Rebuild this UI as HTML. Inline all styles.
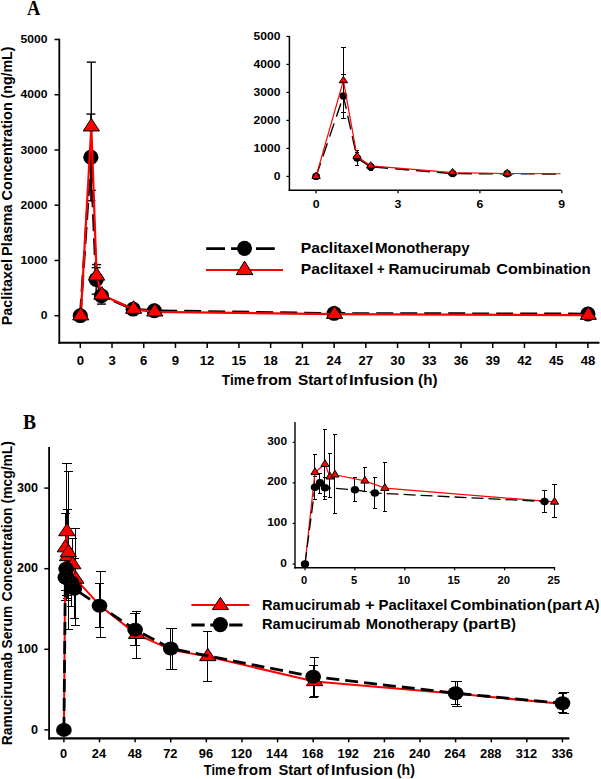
<!DOCTYPE html><html><head><meta charset="utf-8"><style>html,body{margin:0;padding:0;background:#fff;overflow:hidden}svg{display:block}</style></head><body>
<svg width="601" height="779" viewBox="0 0 601 779" font-family='"Liberation Sans", sans-serif' font-weight="bold">
<rect width="601" height="779" fill="#fff"/>
<text x="27.02" y="14.7" font-size="20" font-family='"Liberation Serif", serif' textLength="13.32" lengthAdjust="spacingAndGlyphs">A</text>
<text x="23.11" y="429.0" font-size="20" font-family='"Liberation Serif", serif' textLength="13.02" lengthAdjust="spacingAndGlyphs">B</text>
<line x1="59.30" y1="38.80" x2="59.30" y2="343.80" stroke="#000" stroke-width="1.8"/>
<line x1="58.40" y1="342.80" x2="599.50" y2="342.80" stroke="#000" stroke-width="2"/>
<line x1="54.50" y1="315.70" x2="59.30" y2="315.70" stroke="#000" stroke-width="1.5"/>
<text x="40.78" y="319.40" font-size="11.4" textLength="6.72" lengthAdjust="spacingAndGlyphs">0</text>
<line x1="54.50" y1="260.46" x2="59.30" y2="260.46" stroke="#000" stroke-width="1.5"/>
<text x="20.60" y="264.16" font-size="11.4" textLength="26.88" lengthAdjust="spacingAndGlyphs">1000</text>
<line x1="54.50" y1="205.22" x2="59.30" y2="205.22" stroke="#000" stroke-width="1.5"/>
<text x="20.60" y="208.92" font-size="11.4" textLength="26.88" lengthAdjust="spacingAndGlyphs">2000</text>
<line x1="54.50" y1="149.98" x2="59.30" y2="149.98" stroke="#000" stroke-width="1.5"/>
<text x="20.60" y="153.68" font-size="11.4" textLength="26.88" lengthAdjust="spacingAndGlyphs">3000</text>
<line x1="54.50" y1="94.74" x2="59.30" y2="94.74" stroke="#000" stroke-width="1.5"/>
<text x="20.60" y="98.44" font-size="11.4" textLength="26.88" lengthAdjust="spacingAndGlyphs">4000</text>
<line x1="54.50" y1="39.50" x2="59.30" y2="39.50" stroke="#000" stroke-width="1.5"/>
<text x="20.60" y="43.20" font-size="11.4" textLength="26.88" lengthAdjust="spacingAndGlyphs">5000</text>
<line x1="80.30" y1="343.00" x2="80.30" y2="348.00" stroke="#000" stroke-width="1.5"/>
<text x="76.65" y="365.20" font-size="12.4" textLength="7.31" lengthAdjust="spacingAndGlyphs">0</text>
<line x1="112.02" y1="343.00" x2="112.02" y2="348.00" stroke="#000" stroke-width="1.5"/>
<text x="108.44" y="365.20" font-size="12.4" textLength="7.31" lengthAdjust="spacingAndGlyphs">3</text>
<line x1="143.75" y1="343.00" x2="143.75" y2="348.00" stroke="#000" stroke-width="1.5"/>
<text x="140.10" y="365.20" font-size="12.4" textLength="7.31" lengthAdjust="spacingAndGlyphs">6</text>
<line x1="175.47" y1="343.00" x2="175.47" y2="348.00" stroke="#000" stroke-width="1.5"/>
<text x="171.83" y="365.20" font-size="12.4" textLength="7.31" lengthAdjust="spacingAndGlyphs">9</text>
<line x1="207.20" y1="343.00" x2="207.20" y2="348.00" stroke="#000" stroke-width="1.5"/>
<text x="199.77" y="365.20" font-size="12.4" textLength="14.62" lengthAdjust="spacingAndGlyphs">12</text>
<line x1="238.93" y1="343.00" x2="238.93" y2="348.00" stroke="#000" stroke-width="1.5"/>
<text x="231.40" y="365.20" font-size="12.4" textLength="14.62" lengthAdjust="spacingAndGlyphs">15</text>
<line x1="270.65" y1="343.00" x2="270.65" y2="348.00" stroke="#000" stroke-width="1.5"/>
<text x="263.16" y="365.20" font-size="12.4" textLength="14.62" lengthAdjust="spacingAndGlyphs">18</text>
<line x1="302.38" y1="343.00" x2="302.38" y2="348.00" stroke="#000" stroke-width="1.5"/>
<text x="295.01" y="365.20" font-size="12.4" textLength="14.62" lengthAdjust="spacingAndGlyphs">21</text>
<line x1="334.10" y1="343.00" x2="334.10" y2="348.00" stroke="#000" stroke-width="1.5"/>
<text x="326.61" y="365.20" font-size="12.4" textLength="14.62" lengthAdjust="spacingAndGlyphs">24</text>
<line x1="365.82" y1="343.00" x2="365.82" y2="348.00" stroke="#000" stroke-width="1.5"/>
<text x="358.56" y="365.20" font-size="12.4" textLength="14.62" lengthAdjust="spacingAndGlyphs">27</text>
<line x1="397.55" y1="343.00" x2="397.55" y2="348.00" stroke="#000" stroke-width="1.5"/>
<text x="390.35" y="365.20" font-size="12.4" textLength="14.62" lengthAdjust="spacingAndGlyphs">30</text>
<line x1="429.27" y1="343.00" x2="429.27" y2="348.00" stroke="#000" stroke-width="1.5"/>
<text x="422.05" y="365.20" font-size="12.4" textLength="14.62" lengthAdjust="spacingAndGlyphs">33</text>
<line x1="461.00" y1="343.00" x2="461.00" y2="348.00" stroke="#000" stroke-width="1.5"/>
<text x="453.77" y="365.20" font-size="12.4" textLength="14.62" lengthAdjust="spacingAndGlyphs">36</text>
<line x1="492.72" y1="343.00" x2="492.72" y2="348.00" stroke="#000" stroke-width="1.5"/>
<text x="485.50" y="365.20" font-size="12.4" textLength="14.62" lengthAdjust="spacingAndGlyphs">39</text>
<line x1="524.45" y1="343.00" x2="524.45" y2="348.00" stroke="#000" stroke-width="1.5"/>
<text x="517.32" y="365.20" font-size="12.4" textLength="14.62" lengthAdjust="spacingAndGlyphs">42</text>
<line x1="556.17" y1="343.00" x2="556.17" y2="348.00" stroke="#000" stroke-width="1.5"/>
<text x="548.95" y="365.20" font-size="12.4" textLength="14.62" lengthAdjust="spacingAndGlyphs">45</text>
<line x1="587.90" y1="343.00" x2="587.90" y2="348.00" stroke="#000" stroke-width="1.5"/>
<text x="580.70" y="365.20" font-size="12.4" textLength="14.62" lengthAdjust="spacingAndGlyphs">48</text>
<text x="221.86" y="384.90" font-size="15" textLength="23.95" lengthAdjust="spacingAndGlyphs">Tim</text>
<text x="246.39" y="384.90" font-size="15" textLength="8.46" lengthAdjust="spacingAndGlyphs">e</text>
<text x="256.76" y="384.90" font-size="15" textLength="35.04" lengthAdjust="spacingAndGlyphs">from</text>
<text x="298.04" y="384.90" font-size="15" textLength="34.97" lengthAdjust="spacingAndGlyphs">Start</text>
<text x="335.51" y="384.90" font-size="15" textLength="11.47" lengthAdjust="spacingAndGlyphs">of</text>
<text x="348.91" y="384.90" font-size="15" textLength="65.05" lengthAdjust="spacingAndGlyphs">Infusion</text>
<text x="418.14" y="384.90" font-size="15" textLength="19.37" lengthAdjust="spacingAndGlyphs">(h)</text>
<text transform="translate(11.80,325.23) rotate(-90)" font-size="14.3" textLength="66.23" lengthAdjust="spacingAndGlyphs">Paclitaxel</text>
<text transform="translate(11.80,255.95) rotate(-90)" font-size="14.3" textLength="51.34" lengthAdjust="spacingAndGlyphs">Plasma</text>
<text transform="translate(11.80,200.38) rotate(-90)" font-size="14.3" textLength="98.19" lengthAdjust="spacingAndGlyphs">Concentration</text>
<text transform="translate(11.80,98.41) rotate(-90)" font-size="14.3" textLength="51.85" lengthAdjust="spacingAndGlyphs">(ng/mL)</text>
<line x1="90.88" y1="114.07" x2="90.88" y2="157.16" stroke="#000" stroke-width="1.4"/>
<line x1="86.38" y1="114.07" x2="95.38" y2="114.07" stroke="#000" stroke-width="1.4"/>
<line x1="90.88" y1="157.16" x2="90.88" y2="200.80" stroke="#000" stroke-width="1.4"/>
<line x1="86.38" y1="200.80" x2="95.38" y2="200.80" stroke="#000" stroke-width="1.4"/>
<line x1="96.16" y1="267.64" x2="96.16" y2="279.52" stroke="#000" stroke-width="1.4"/>
<line x1="91.66" y1="267.64" x2="100.66" y2="267.64" stroke="#000" stroke-width="1.4"/>
<line x1="96.16" y1="279.52" x2="96.16" y2="294.16" stroke="#000" stroke-width="1.4"/>
<line x1="91.66" y1="294.16" x2="100.66" y2="294.16" stroke="#000" stroke-width="1.4"/>
<line x1="101.45" y1="295.81" x2="101.45" y2="304.10" stroke="#000" stroke-width="1.4"/>
<line x1="96.95" y1="304.10" x2="105.95" y2="304.10" stroke="#000" stroke-width="1.4"/>
<line x1="91.33" y1="62.15" x2="91.33" y2="126.78" stroke="#000" stroke-width="1.4"/>
<line x1="86.83" y1="62.15" x2="95.83" y2="62.15" stroke="#000" stroke-width="1.4"/>
<line x1="91.33" y1="126.78" x2="91.33" y2="190.31" stroke="#000" stroke-width="1.4"/>
<line x1="86.83" y1="190.31" x2="95.83" y2="190.31" stroke="#000" stroke-width="1.4"/>
<line x1="96.61" y1="264.60" x2="96.61" y2="275.93" stroke="#000" stroke-width="1.4"/>
<line x1="92.11" y1="264.60" x2="101.11" y2="264.60" stroke="#000" stroke-width="1.4"/>
<polyline points="80.30,315.70 90.88,157.16 96.16,279.52 101.45,295.81 133.18,309.18 154.32,310.73 334.10,313.44 587.90,313.99" fill="none" stroke="#000" stroke-width="2.7" stroke-dasharray="17 7" stroke-linejoin="round"/>
<ellipse cx="80.30" cy="315.70" rx="7.6" ry="7.4" fill="#000"/>
<ellipse cx="90.88" cy="157.16" rx="7.6" ry="7.4" fill="#000"/>
<ellipse cx="96.16" cy="279.52" rx="7.6" ry="7.4" fill="#000"/>
<ellipse cx="101.45" cy="295.81" rx="7.6" ry="7.4" fill="#000"/>
<ellipse cx="133.18" cy="309.18" rx="7.6" ry="7.4" fill="#000"/>
<ellipse cx="154.32" cy="310.73" rx="7.6" ry="7.4" fill="#000"/>
<ellipse cx="334.10" cy="313.44" rx="7.6" ry="7.4" fill="#000"/>
<ellipse cx="587.90" cy="313.99" rx="7.6" ry="7.4" fill="#000"/>
<polyline points="80.75,315.70 91.33,126.78 96.61,275.93 101.90,294.99 133.62,309.13 154.77,311.83 334.55,314.21 588.35,315.15" fill="none" stroke="#f00" stroke-width="2.2" stroke-linejoin="round"/>
<polygon points="80.75,307.30 88.85,319.90 72.65,319.90" fill="#f00" stroke="#000" stroke-width="1"/>
<polygon points="91.33,118.38 99.42,130.98 83.23,130.98" fill="#f00" stroke="#000" stroke-width="1"/>
<polygon points="96.61,267.53 104.71,280.13 88.51,280.13" fill="#f00" stroke="#000" stroke-width="1"/>
<polygon points="101.90,286.59 110.00,299.19 93.80,299.19" fill="#f00" stroke="#000" stroke-width="1"/>
<polygon points="133.62,300.73 141.72,313.33 125.53,313.33" fill="#f00" stroke="#000" stroke-width="1"/>
<polygon points="154.77,303.43 162.87,316.03 146.67,316.03" fill="#f00" stroke="#000" stroke-width="1"/>
<polygon points="334.55,305.81 342.65,318.41 326.45,318.41" fill="#f00" stroke="#000" stroke-width="1"/>
<polygon points="588.35,306.75 596.45,319.35 580.25,319.35" fill="#f00" stroke="#000" stroke-width="1"/>
<polyline points="206.20,248.60 275.00,248.60" fill="none" stroke="#000" stroke-width="2.8" stroke-dasharray="18.8 6.1" stroke-linejoin="round"/>
<ellipse cx="244.50" cy="248.35" rx="7.5" ry="7.6" fill="#000"/>
<line x1="206.00" y1="269.90" x2="283.00" y2="269.90" stroke="#f00" stroke-width="2"/>
<polygon points="244.60,261.10 252.90,274.60 236.30,274.60" fill="#f00" stroke="#000" stroke-width="1"/>
<text x="300.78" y="252.90" font-size="14.3" textLength="72.61" lengthAdjust="spacingAndGlyphs">Paclitaxel</text>
<text x="374.92" y="252.90" font-size="14.3" textLength="94.80" lengthAdjust="spacingAndGlyphs">Monotherapy</text>
<text x="300.78" y="273.90" font-size="14.3" textLength="72.61" lengthAdjust="spacingAndGlyphs">Paclitaxel</text>
<text x="376.88" y="273.90" font-size="14.3" textLength="7.63" lengthAdjust="spacingAndGlyphs">+</text>
<text x="388.41" y="273.90" font-size="14.3" textLength="32.96" lengthAdjust="spacingAndGlyphs">Ram</text>
<text x="421.99" y="273.90" font-size="14.3" textLength="68.44" lengthAdjust="spacingAndGlyphs">ucirumab</text>
<text x="496.36" y="273.90" font-size="14.3" textLength="35.76" lengthAdjust="spacingAndGlyphs">Com</text>
<text x="532.43" y="273.90" font-size="14.3" textLength="58.22" lengthAdjust="spacingAndGlyphs">bination</text>
<line x1="289.40" y1="36.00" x2="289.40" y2="191.00" stroke="#000" stroke-width="1.5"/>
<line x1="288.70" y1="190.30" x2="561.50" y2="190.30" stroke="#000" stroke-width="1.5"/>
<line x1="286.40" y1="176.40" x2="289.40" y2="176.40" stroke="#000" stroke-width="1.2"/>
<text x="273.67" y="180.20" font-size="11" textLength="6.73" lengthAdjust="spacingAndGlyphs">0</text>
<line x1="286.40" y1="148.40" x2="289.40" y2="148.40" stroke="#000" stroke-width="1.2"/>
<text x="253.46" y="152.20" font-size="11" textLength="26.92" lengthAdjust="spacingAndGlyphs">1000</text>
<line x1="286.40" y1="120.40" x2="289.40" y2="120.40" stroke="#000" stroke-width="1.2"/>
<text x="253.46" y="124.20" font-size="11" textLength="26.92" lengthAdjust="spacingAndGlyphs">2000</text>
<line x1="286.40" y1="92.40" x2="289.40" y2="92.40" stroke="#000" stroke-width="1.2"/>
<text x="253.46" y="96.20" font-size="11" textLength="26.92" lengthAdjust="spacingAndGlyphs">3000</text>
<line x1="286.40" y1="64.40" x2="289.40" y2="64.40" stroke="#000" stroke-width="1.2"/>
<text x="253.46" y="68.20" font-size="11" textLength="26.92" lengthAdjust="spacingAndGlyphs">4000</text>
<line x1="286.40" y1="36.40" x2="289.40" y2="36.40" stroke="#000" stroke-width="1.2"/>
<text x="253.46" y="40.20" font-size="11" textLength="26.92" lengthAdjust="spacingAndGlyphs">5000</text>
<line x1="316.10" y1="190.30" x2="316.10" y2="193.20" stroke="#000" stroke-width="1.3"/>
<text x="312.68" y="208.10" font-size="11.2" textLength="6.85" lengthAdjust="spacingAndGlyphs">0</text>
<line x1="398.00" y1="190.30" x2="398.00" y2="193.20" stroke="#000" stroke-width="1.3"/>
<text x="394.64" y="208.10" font-size="11.2" textLength="6.85" lengthAdjust="spacingAndGlyphs">3</text>
<line x1="479.90" y1="190.30" x2="479.90" y2="193.20" stroke="#000" stroke-width="1.3"/>
<text x="476.48" y="208.10" font-size="11.2" textLength="6.85" lengthAdjust="spacingAndGlyphs">6</text>
<line x1="561.80" y1="190.30" x2="561.80" y2="193.20" stroke="#000" stroke-width="1.3"/>
<text x="558.38" y="208.10" font-size="11.2" textLength="6.85" lengthAdjust="spacingAndGlyphs">9</text>
<line x1="343.40" y1="74.20" x2="343.40" y2="96.04" stroke="#000" stroke-width="1" shape-rendering="crispEdges"/>
<line x1="341.20" y1="74.20" x2="345.60" y2="74.20" stroke="#000" stroke-width="1" shape-rendering="crispEdges"/>
<line x1="343.40" y1="96.04" x2="343.40" y2="118.16" stroke="#000" stroke-width="1" shape-rendering="crispEdges"/>
<line x1="341.20" y1="118.16" x2="345.60" y2="118.16" stroke="#000" stroke-width="1" shape-rendering="crispEdges"/>
<line x1="357.05" y1="152.04" x2="357.05" y2="158.06" stroke="#000" stroke-width="1" shape-rendering="crispEdges"/>
<line x1="354.85" y1="152.04" x2="359.25" y2="152.04" stroke="#000" stroke-width="1" shape-rendering="crispEdges"/>
<line x1="357.05" y1="158.06" x2="357.05" y2="165.48" stroke="#000" stroke-width="1" shape-rendering="crispEdges"/>
<line x1="354.85" y1="165.48" x2="359.25" y2="165.48" stroke="#000" stroke-width="1" shape-rendering="crispEdges"/>
<line x1="370.70" y1="166.32" x2="370.70" y2="170.52" stroke="#000" stroke-width="1" shape-rendering="crispEdges"/>
<line x1="368.50" y1="170.52" x2="372.90" y2="170.52" stroke="#000" stroke-width="1" shape-rendering="crispEdges"/>
<line x1="343.40" y1="47.88" x2="343.40" y2="80.64" stroke="#000" stroke-width="1" shape-rendering="crispEdges"/>
<line x1="341.20" y1="47.88" x2="345.60" y2="47.88" stroke="#000" stroke-width="1" shape-rendering="crispEdges"/>
<line x1="343.40" y1="80.64" x2="343.40" y2="112.84" stroke="#000" stroke-width="1" shape-rendering="crispEdges"/>
<line x1="341.20" y1="112.84" x2="345.60" y2="112.84" stroke="#000" stroke-width="1" shape-rendering="crispEdges"/>
<line x1="357.05" y1="150.50" x2="357.05" y2="156.24" stroke="#000" stroke-width="1" shape-rendering="crispEdges"/>
<line x1="354.85" y1="150.50" x2="359.25" y2="150.50" stroke="#000" stroke-width="1" shape-rendering="crispEdges"/>
<polyline points="316.10,176.40 343.40,96.04 357.05,158.06 370.70,166.74 452.60,173.60 507.20,173.82 560.50,173.99" fill="none" stroke="#000" stroke-width="1.4" stroke-dasharray="14 7" stroke-linejoin="round"/>
<ellipse cx="316.10" cy="176.40" rx="3.9" ry="3.7" fill="#000"/>
<ellipse cx="343.40" cy="96.04" rx="3.9" ry="3.7" fill="#000"/>
<ellipse cx="357.05" cy="158.06" rx="3.9" ry="3.7" fill="#000"/>
<ellipse cx="370.70" cy="166.74" rx="3.9" ry="3.7" fill="#000"/>
<ellipse cx="452.60" cy="173.60" rx="3.9" ry="3.7" fill="#000"/>
<ellipse cx="507.20" cy="173.82" rx="3.9" ry="3.7" fill="#000"/>
<polyline points="316.10,176.40 343.40,80.64 357.05,156.24 370.70,165.90 452.60,172.65 507.20,173.49 560.50,173.74" fill="none" stroke="#f00" stroke-width="1.2" stroke-linejoin="round"/>
<polygon points="316.10,172.20 320.30,178.50 311.90,178.50" fill="#f00" stroke="#000" stroke-width="1"/>
<polygon points="343.40,76.44 347.60,82.74 339.20,82.74" fill="#f00" stroke="#000" stroke-width="1"/>
<polygon points="357.05,152.04 361.25,158.34 352.85,158.34" fill="#f00" stroke="#000" stroke-width="1"/>
<polygon points="370.70,161.70 374.90,168.00 366.50,168.00" fill="#f00" stroke="#000" stroke-width="1"/>
<polygon points="452.60,168.45 456.80,174.75 448.40,174.75" fill="#f00" stroke="#000" stroke-width="1"/>
<polygon points="507.20,169.29 511.40,175.59 503.00,175.59" fill="#f00" stroke="#000" stroke-width="1"/>
<line x1="49.10" y1="447.10" x2="49.10" y2="739.40" stroke="#000" stroke-width="1.8"/>
<line x1="48.20" y1="738.30" x2="569.40" y2="738.30" stroke="#000" stroke-width="2.2"/>
<line x1="44.30" y1="729.90" x2="49.10" y2="729.90" stroke="#000" stroke-width="1.5"/>
<text x="31.11" y="733.50" font-size="12" textLength="7.01" lengthAdjust="spacingAndGlyphs">0</text>
<line x1="44.30" y1="649.30" x2="49.10" y2="649.30" stroke="#000" stroke-width="1.5"/>
<text x="17.12" y="652.90" font-size="12" textLength="21.02" lengthAdjust="spacingAndGlyphs">100</text>
<line x1="44.30" y1="568.70" x2="49.10" y2="568.70" stroke="#000" stroke-width="1.5"/>
<text x="17.12" y="572.30" font-size="12" textLength="21.02" lengthAdjust="spacingAndGlyphs">200</text>
<line x1="44.30" y1="488.10" x2="49.10" y2="488.10" stroke="#000" stroke-width="1.5"/>
<text x="17.12" y="491.70" font-size="12" textLength="21.02" lengthAdjust="spacingAndGlyphs">300</text>
<line x1="63.90" y1="738.30" x2="63.90" y2="742.30" stroke="#000" stroke-width="1.5"/>
<text x="59.94" y="757.90" font-size="12" textLength="7.14" lengthAdjust="spacingAndGlyphs">0</text>
<line x1="99.51" y1="738.30" x2="99.51" y2="742.30" stroke="#000" stroke-width="1.5"/>
<text x="91.79" y="757.90" font-size="12" textLength="14.28" lengthAdjust="spacingAndGlyphs">24</text>
<line x1="135.12" y1="738.30" x2="135.12" y2="742.30" stroke="#000" stroke-width="1.5"/>
<text x="127.69" y="757.90" font-size="12" textLength="14.28" lengthAdjust="spacingAndGlyphs">48</text>
<line x1="170.73" y1="738.30" x2="170.73" y2="742.30" stroke="#000" stroke-width="1.5"/>
<text x="163.20" y="757.90" font-size="12" textLength="14.28" lengthAdjust="spacingAndGlyphs">72</text>
<line x1="206.34" y1="738.30" x2="206.34" y2="742.30" stroke="#000" stroke-width="1.5"/>
<text x="198.81" y="757.90" font-size="12" textLength="14.28" lengthAdjust="spacingAndGlyphs">96</text>
<line x1="241.95" y1="738.30" x2="241.95" y2="742.30" stroke="#000" stroke-width="1.5"/>
<text x="230.73" y="757.90" font-size="12" textLength="21.42" lengthAdjust="spacingAndGlyphs">120</text>
<line x1="277.56" y1="738.30" x2="277.56" y2="742.30" stroke="#000" stroke-width="1.5"/>
<text x="266.12" y="757.90" font-size="12" textLength="21.42" lengthAdjust="spacingAndGlyphs">144</text>
<line x1="313.17" y1="738.30" x2="313.17" y2="742.30" stroke="#000" stroke-width="1.5"/>
<text x="301.89" y="757.90" font-size="12" textLength="21.42" lengthAdjust="spacingAndGlyphs">168</text>
<line x1="348.78" y1="738.30" x2="348.78" y2="742.30" stroke="#000" stroke-width="1.5"/>
<text x="337.56" y="757.90" font-size="12" textLength="21.42" lengthAdjust="spacingAndGlyphs">192</text>
<line x1="384.39" y1="738.30" x2="384.39" y2="742.30" stroke="#000" stroke-width="1.5"/>
<text x="373.30" y="757.90" font-size="12" textLength="21.42" lengthAdjust="spacingAndGlyphs">216</text>
<line x1="420.00" y1="738.30" x2="420.00" y2="742.30" stroke="#000" stroke-width="1.5"/>
<text x="408.94" y="757.90" font-size="12" textLength="21.42" lengthAdjust="spacingAndGlyphs">240</text>
<line x1="455.61" y1="738.30" x2="455.61" y2="742.30" stroke="#000" stroke-width="1.5"/>
<text x="444.33" y="757.90" font-size="12" textLength="21.42" lengthAdjust="spacingAndGlyphs">264</text>
<line x1="491.22" y1="738.30" x2="491.22" y2="742.30" stroke="#000" stroke-width="1.5"/>
<text x="480.10" y="757.90" font-size="12" textLength="21.42" lengthAdjust="spacingAndGlyphs">288</text>
<line x1="526.83" y1="738.30" x2="526.83" y2="742.30" stroke="#000" stroke-width="1.5"/>
<text x="515.84" y="757.90" font-size="12" textLength="21.42" lengthAdjust="spacingAndGlyphs">312</text>
<line x1="562.44" y1="738.30" x2="562.44" y2="742.30" stroke="#000" stroke-width="1.5"/>
<text x="551.41" y="757.90" font-size="12" textLength="21.42" lengthAdjust="spacingAndGlyphs">336</text>
<text x="203.87" y="775.00" font-size="14.3" textLength="22.49" lengthAdjust="spacingAndGlyphs">Tim</text>
<text x="226.98" y="775.00" font-size="14.3" textLength="8.57" lengthAdjust="spacingAndGlyphs">e</text>
<text x="237.77" y="775.00" font-size="14.3" textLength="34.00" lengthAdjust="spacingAndGlyphs">from</text>
<text x="278.46" y="775.00" font-size="14.3" textLength="33.54" lengthAdjust="spacingAndGlyphs">Start</text>
<text x="316.47" y="775.00" font-size="14.3" textLength="12.52" lengthAdjust="spacingAndGlyphs">of</text>
<text x="330.96" y="775.00" font-size="14.3" textLength="61.94" lengthAdjust="spacingAndGlyphs">Infusion</text>
<text x="396.79" y="775.00" font-size="14.3" textLength="18.07" lengthAdjust="spacingAndGlyphs">(h)</text>
<text transform="translate(11.80,745.21) rotate(-90)" font-size="14.0" textLength="92.94" lengthAdjust="spacingAndGlyphs">Ramucirumab</text>
<text transform="translate(11.80,648.41) rotate(-90)" font-size="14.0" textLength="42.49" lengthAdjust="spacingAndGlyphs">Serum</text>
<text transform="translate(11.80,601.35) rotate(-90)" font-size="14.0" textLength="93.93" lengthAdjust="spacingAndGlyphs">Concentration</text>
<text transform="translate(11.80,503.39) rotate(-90)" font-size="14.0" textLength="62.29" lengthAdjust="spacingAndGlyphs">(mcg/mL)</text>
<line x1="65.38" y1="513.09" x2="65.38" y2="577.57" stroke="#000" stroke-width="1" shape-rendering="crispEdges"/>
<line x1="60.73" y1="513.09" x2="70.03" y2="513.09" stroke="#000" stroke-width="1" shape-rendering="crispEdges"/>
<line x1="60.73" y1="577.57" x2="70.03" y2="577.57" stroke="#000" stroke-width="1" shape-rendering="crispEdges"/>
<line x1="66.87" y1="463.11" x2="66.87" y2="595.30" stroke="#000" stroke-width="1" shape-rendering="crispEdges"/>
<line x1="62.22" y1="463.11" x2="71.52" y2="463.11" stroke="#000" stroke-width="1" shape-rendering="crispEdges"/>
<line x1="62.22" y1="595.30" x2="71.52" y2="595.30" stroke="#000" stroke-width="1" shape-rendering="crispEdges"/>
<line x1="67.61" y1="509.86" x2="67.61" y2="598.52" stroke="#000" stroke-width="1" shape-rendering="crispEdges"/>
<line x1="62.96" y1="509.86" x2="72.26" y2="509.86" stroke="#000" stroke-width="1" shape-rendering="crispEdges"/>
<line x1="62.96" y1="598.52" x2="72.26" y2="598.52" stroke="#000" stroke-width="1" shape-rendering="crispEdges"/>
<line x1="68.35" y1="471.98" x2="68.35" y2="629.15" stroke="#000" stroke-width="1" shape-rendering="crispEdges"/>
<line x1="63.70" y1="471.98" x2="73.00" y2="471.98" stroke="#000" stroke-width="1" shape-rendering="crispEdges"/>
<line x1="63.70" y1="629.15" x2="73.00" y2="629.15" stroke="#000" stroke-width="1" shape-rendering="crispEdges"/>
<line x1="72.80" y1="538.88" x2="72.80" y2="585.63" stroke="#000" stroke-width="1" shape-rendering="crispEdges"/>
<line x1="68.15" y1="538.88" x2="77.45" y2="538.88" stroke="#000" stroke-width="1" shape-rendering="crispEdges"/>
<line x1="68.15" y1="585.63" x2="77.45" y2="585.63" stroke="#000" stroke-width="1" shape-rendering="crispEdges"/>
<line x1="75.77" y1="528.40" x2="75.77" y2="625.12" stroke="#000" stroke-width="1" shape-rendering="crispEdges"/>
<line x1="71.12" y1="528.40" x2="80.42" y2="528.40" stroke="#000" stroke-width="1" shape-rendering="crispEdges"/>
<line x1="71.12" y1="625.12" x2="80.42" y2="625.12" stroke="#000" stroke-width="1" shape-rendering="crispEdges"/>
<line x1="100.99" y1="571.92" x2="100.99" y2="637.21" stroke="#000" stroke-width="1" shape-rendering="crispEdges"/>
<line x1="96.34" y1="571.92" x2="105.64" y2="571.92" stroke="#000" stroke-width="1" shape-rendering="crispEdges"/>
<line x1="96.34" y1="637.21" x2="105.64" y2="637.21" stroke="#000" stroke-width="1" shape-rendering="crispEdges"/>
<line x1="136.60" y1="611.42" x2="136.60" y2="658.17" stroke="#000" stroke-width="1" shape-rendering="crispEdges"/>
<line x1="131.95" y1="611.42" x2="141.25" y2="611.42" stroke="#000" stroke-width="1" shape-rendering="crispEdges"/>
<line x1="131.95" y1="658.17" x2="141.25" y2="658.17" stroke="#000" stroke-width="1" shape-rendering="crispEdges"/>
<line x1="172.21" y1="628.34" x2="172.21" y2="669.45" stroke="#000" stroke-width="1" shape-rendering="crispEdges"/>
<line x1="167.56" y1="628.34" x2="176.86" y2="628.34" stroke="#000" stroke-width="1" shape-rendering="crispEdges"/>
<line x1="167.56" y1="669.45" x2="176.86" y2="669.45" stroke="#000" stroke-width="1" shape-rendering="crispEdges"/>
<line x1="207.82" y1="631.89" x2="207.82" y2="681.14" stroke="#000" stroke-width="1" shape-rendering="crispEdges"/>
<line x1="203.17" y1="631.89" x2="212.47" y2="631.89" stroke="#000" stroke-width="1" shape-rendering="crispEdges"/>
<line x1="203.17" y1="681.14" x2="212.47" y2="681.14" stroke="#000" stroke-width="1" shape-rendering="crispEdges"/>
<line x1="314.65" y1="657.36" x2="314.65" y2="696.85" stroke="#000" stroke-width="1" shape-rendering="crispEdges"/>
<line x1="310.00" y1="657.36" x2="319.30" y2="657.36" stroke="#000" stroke-width="1" shape-rendering="crispEdges"/>
<line x1="310.00" y1="696.85" x2="319.30" y2="696.85" stroke="#000" stroke-width="1" shape-rendering="crispEdges"/>
<line x1="457.09" y1="681.14" x2="457.09" y2="706.53" stroke="#000" stroke-width="1" shape-rendering="crispEdges"/>
<line x1="452.44" y1="681.14" x2="461.74" y2="681.14" stroke="#000" stroke-width="1" shape-rendering="crispEdges"/>
<line x1="452.44" y1="706.53" x2="461.74" y2="706.53" stroke="#000" stroke-width="1" shape-rendering="crispEdges"/>
<line x1="563.92" y1="692.02" x2="563.92" y2="713.78" stroke="#000" stroke-width="1" shape-rendering="crispEdges"/>
<line x1="559.27" y1="692.02" x2="568.57" y2="692.02" stroke="#000" stroke-width="1" shape-rendering="crispEdges"/>
<line x1="559.27" y1="713.78" x2="568.57" y2="713.78" stroke="#000" stroke-width="1" shape-rendering="crispEdges"/>
<line x1="65.38" y1="556.61" x2="65.38" y2="600.94" stroke="#000" stroke-width="1" shape-rendering="crispEdges"/>
<line x1="60.73" y1="556.61" x2="70.03" y2="556.61" stroke="#000" stroke-width="1" shape-rendering="crispEdges"/>
<line x1="60.73" y1="600.94" x2="70.03" y2="600.94" stroke="#000" stroke-width="1" shape-rendering="crispEdges"/>
<line x1="66.13" y1="550.16" x2="66.13" y2="590.46" stroke="#000" stroke-width="1" shape-rendering="crispEdges"/>
<line x1="61.48" y1="550.16" x2="70.78" y2="550.16" stroke="#000" stroke-width="1" shape-rendering="crispEdges"/>
<line x1="61.48" y1="590.46" x2="70.78" y2="590.46" stroke="#000" stroke-width="1" shape-rendering="crispEdges"/>
<line x1="66.87" y1="558.22" x2="66.87" y2="600.94" stroke="#000" stroke-width="1" shape-rendering="crispEdges"/>
<line x1="62.22" y1="558.22" x2="71.52" y2="558.22" stroke="#000" stroke-width="1" shape-rendering="crispEdges"/>
<line x1="62.22" y1="600.94" x2="71.52" y2="600.94" stroke="#000" stroke-width="1" shape-rendering="crispEdges"/>
<line x1="71.32" y1="559.03" x2="71.32" y2="606.58" stroke="#000" stroke-width="1" shape-rendering="crispEdges"/>
<line x1="66.67" y1="559.03" x2="75.97" y2="559.03" stroke="#000" stroke-width="1" shape-rendering="crispEdges"/>
<line x1="66.67" y1="606.58" x2="75.97" y2="606.58" stroke="#000" stroke-width="1" shape-rendering="crispEdges"/>
<line x1="74.29" y1="558.22" x2="74.29" y2="618.67" stroke="#000" stroke-width="1" shape-rendering="crispEdges"/>
<line x1="69.64" y1="558.22" x2="78.94" y2="558.22" stroke="#000" stroke-width="1" shape-rendering="crispEdges"/>
<line x1="69.64" y1="618.67" x2="78.94" y2="618.67" stroke="#000" stroke-width="1" shape-rendering="crispEdges"/>
<line x1="99.51" y1="583.21" x2="99.51" y2="627.54" stroke="#000" stroke-width="1" shape-rendering="crispEdges"/>
<line x1="94.86" y1="583.21" x2="104.16" y2="583.21" stroke="#000" stroke-width="1" shape-rendering="crispEdges"/>
<line x1="94.86" y1="627.54" x2="104.16" y2="627.54" stroke="#000" stroke-width="1" shape-rendering="crispEdges"/>
<line x1="135.12" y1="613.84" x2="135.12" y2="645.27" stroke="#000" stroke-width="1" shape-rendering="crispEdges"/>
<line x1="130.47" y1="613.84" x2="139.77" y2="613.84" stroke="#000" stroke-width="1" shape-rendering="crispEdges"/>
<line x1="130.47" y1="645.27" x2="139.77" y2="645.27" stroke="#000" stroke-width="1" shape-rendering="crispEdges"/>
<line x1="170.73" y1="628.34" x2="170.73" y2="669.45" stroke="#000" stroke-width="1" shape-rendering="crispEdges"/>
<line x1="166.08" y1="628.34" x2="175.38" y2="628.34" stroke="#000" stroke-width="1" shape-rendering="crispEdges"/>
<line x1="166.08" y1="669.45" x2="175.38" y2="669.45" stroke="#000" stroke-width="1" shape-rendering="crispEdges"/>
<line x1="313.17" y1="665.02" x2="313.17" y2="697.90" stroke="#000" stroke-width="1" shape-rendering="crispEdges"/>
<line x1="308.52" y1="665.02" x2="317.82" y2="665.02" stroke="#000" stroke-width="1" shape-rendering="crispEdges"/>
<line x1="308.52" y1="697.90" x2="317.82" y2="697.90" stroke="#000" stroke-width="1" shape-rendering="crispEdges"/>
<line x1="455.61" y1="681.70" x2="455.61" y2="704.43" stroke="#000" stroke-width="1" shape-rendering="crispEdges"/>
<line x1="450.96" y1="681.70" x2="460.26" y2="681.70" stroke="#000" stroke-width="1" shape-rendering="crispEdges"/>
<line x1="450.96" y1="704.43" x2="460.26" y2="704.43" stroke="#000" stroke-width="1" shape-rendering="crispEdges"/>
<line x1="562.44" y1="693.87" x2="562.44" y2="712.17" stroke="#000" stroke-width="1" shape-rendering="crispEdges"/>
<line x1="557.79" y1="693.87" x2="567.09" y2="693.87" stroke="#000" stroke-width="1" shape-rendering="crispEdges"/>
<line x1="557.79" y1="712.17" x2="567.09" y2="712.17" stroke="#000" stroke-width="1" shape-rendering="crispEdges"/>
<polyline points="63.90,729.90 65.38,547.74 66.87,531.62 67.61,556.61 68.35,552.58 72.80,564.67 75.77,579.18 100.99,606.58 136.60,634.39 172.21,650.11 207.82,656.55 314.65,681.54 457.09,693.63 563.92,704.11" fill="none" stroke="#f00" stroke-width="2" stroke-linejoin="round"/>
<polygon points="65.38,539.54 73.58,551.84 57.18,551.84" fill="#f00" stroke="#000" stroke-width="1"/>
<polygon points="66.87,523.42 75.07,535.72 58.67,535.72" fill="#f00" stroke="#000" stroke-width="1"/>
<polygon points="67.61,548.41 75.81,560.71 59.41,560.71" fill="#f00" stroke="#000" stroke-width="1"/>
<polygon points="68.35,544.38 76.55,556.68 60.15,556.68" fill="#f00" stroke="#000" stroke-width="1"/>
<polygon points="72.80,556.47 81.00,568.77 64.60,568.77" fill="#f00" stroke="#000" stroke-width="1"/>
<polygon points="75.77,570.98 83.97,583.28 67.57,583.28" fill="#f00" stroke="#000" stroke-width="1"/>
<polygon points="136.60,626.19 144.80,638.49 128.40,638.49" fill="#f00" stroke="#000" stroke-width="1"/>
<polygon points="207.82,648.35 216.02,660.65 199.62,660.65" fill="#f00" stroke="#000" stroke-width="1"/>
<polygon points="314.65,673.34 322.85,685.64 306.45,685.64" fill="#f00" stroke="#000" stroke-width="1"/>
<polyline points="63.90,729.90 65.38,577.57 66.13,568.70 66.87,578.37 71.32,582.40 74.29,588.85 99.51,605.78 135.12,629.63 170.73,648.49 313.17,676.70 455.61,693.23 562.44,703.30" fill="none" stroke="#000" stroke-width="2.8" stroke-dasharray="13 6" stroke-linejoin="round"/>
<ellipse cx="63.90" cy="729.90" rx="7.85" ry="7.0" fill="#000"/>
<ellipse cx="65.38" cy="577.57" rx="7.85" ry="7.0" fill="#000"/>
<ellipse cx="66.13" cy="568.70" rx="7.85" ry="7.0" fill="#000"/>
<ellipse cx="66.87" cy="578.37" rx="7.85" ry="7.0" fill="#000"/>
<ellipse cx="71.32" cy="582.40" rx="7.85" ry="7.0" fill="#000"/>
<ellipse cx="74.29" cy="588.85" rx="7.85" ry="7.0" fill="#000"/>
<ellipse cx="99.51" cy="605.78" rx="7.85" ry="7.0" fill="#000"/>
<ellipse cx="135.12" cy="629.63" rx="7.85" ry="7.0" fill="#000"/>
<ellipse cx="170.73" cy="648.49" rx="7.85" ry="7.0" fill="#000"/>
<ellipse cx="313.17" cy="676.70" rx="7.85" ry="7.0" fill="#000"/>
<ellipse cx="455.61" cy="693.23" rx="7.85" ry="7.0" fill="#000"/>
<ellipse cx="562.44" cy="703.30" rx="7.85" ry="7.0" fill="#000"/>
<line x1="191.40" y1="604.90" x2="249.30" y2="604.90" stroke="#f00" stroke-width="2"/>
<polygon points="220.40,597.30 228.50,609.60 212.30,609.60" fill="#f00" stroke="#000" stroke-width="1"/>
<polyline points="191.40,625.00 242.50,625.00" fill="none" stroke="#000" stroke-width="2.8" stroke-dasharray="13.3 5.6" stroke-linejoin="round"/>
<ellipse cx="220.30" cy="624.60" rx="7.6" ry="7.6" fill="#000"/>
<text x="262.05" y="610.00" font-size="14.8" textLength="31.69" lengthAdjust="spacingAndGlyphs">Ram</text>
<text x="294.64" y="610.00" font-size="14.8" textLength="47.70" lengthAdjust="spacingAndGlyphs">ucirum</text>
<text x="343.46" y="610.00" font-size="14.8" textLength="16.95" lengthAdjust="spacingAndGlyphs">ab</text>
<text x="365.13" y="610.00" font-size="14.8" textLength="9.71" lengthAdjust="spacingAndGlyphs">+</text>
<text x="378.53" y="610.00" font-size="14.8" textLength="69.01" lengthAdjust="spacingAndGlyphs">Paclitaxel</text>
<text x="450.38" y="610.00" font-size="14.8" textLength="95.37" lengthAdjust="spacingAndGlyphs">Combination</text>
<text x="547.12" y="610.00" font-size="14.8" textLength="34.67" lengthAdjust="spacingAndGlyphs">(part</text>
<text x="584.34" y="610.00" font-size="14.8" textLength="15.29" lengthAdjust="spacingAndGlyphs">A)</text>
<text x="262.05" y="629.00" font-size="14.8" textLength="31.69" lengthAdjust="spacingAndGlyphs">Ram</text>
<text x="294.64" y="629.00" font-size="14.8" textLength="47.70" lengthAdjust="spacingAndGlyphs">ucirum</text>
<text x="343.46" y="629.00" font-size="14.8" textLength="16.95" lengthAdjust="spacingAndGlyphs">ab</text>
<text x="365.84" y="629.00" font-size="14.8" textLength="92.48" lengthAdjust="spacingAndGlyphs">Monotherapy</text>
<text x="462.89" y="629.00" font-size="14.8" textLength="36.01" lengthAdjust="spacingAndGlyphs">(part</text>
<text x="500.23" y="629.00" font-size="14.8" textLength="15.72" lengthAdjust="spacingAndGlyphs">B)</text>
<line x1="295.00" y1="422.10" x2="295.00" y2="568.50" stroke="#000" stroke-width="1.4"/>
<line x1="294.30" y1="567.80" x2="555.20" y2="567.80" stroke="#000" stroke-width="1.4"/>
<line x1="292.60" y1="564.00" x2="295.00" y2="564.00" stroke="#000" stroke-width="1.2"/>
<text x="280.38" y="566.60" font-size="11" textLength="6.61" lengthAdjust="spacingAndGlyphs">0</text>
<line x1="292.60" y1="523.43" x2="295.00" y2="523.43" stroke="#000" stroke-width="1.2"/>
<text x="267.19" y="526.03" font-size="11" textLength="19.82" lengthAdjust="spacingAndGlyphs">100</text>
<line x1="292.60" y1="482.86" x2="295.00" y2="482.86" stroke="#000" stroke-width="1.2"/>
<text x="267.19" y="485.46" font-size="11" textLength="19.82" lengthAdjust="spacingAndGlyphs">200</text>
<line x1="292.60" y1="442.29" x2="295.00" y2="442.29" stroke="#000" stroke-width="1.2"/>
<text x="267.19" y="444.89" font-size="11" textLength="19.82" lengthAdjust="spacingAndGlyphs">300</text>
<line x1="305.00" y1="567.80" x2="305.00" y2="570.30" stroke="#000" stroke-width="1.2"/>
<text x="301.09" y="584.10" font-size="11.2" textLength="6.23" lengthAdjust="spacingAndGlyphs">0</text>
<line x1="354.90" y1="567.80" x2="354.90" y2="570.30" stroke="#000" stroke-width="1.2"/>
<text x="350.96" y="584.10" font-size="11.2" textLength="6.23" lengthAdjust="spacingAndGlyphs">5</text>
<line x1="404.80" y1="567.80" x2="404.80" y2="570.30" stroke="#000" stroke-width="1.2"/>
<text x="397.67" y="584.10" font-size="11.2" textLength="12.46" lengthAdjust="spacingAndGlyphs">10</text>
<line x1="454.70" y1="567.80" x2="454.70" y2="570.30" stroke="#000" stroke-width="1.2"/>
<text x="447.49" y="584.10" font-size="11.2" textLength="12.46" lengthAdjust="spacingAndGlyphs">15</text>
<line x1="504.60" y1="567.80" x2="504.60" y2="570.30" stroke="#000" stroke-width="1.2"/>
<text x="497.61" y="584.10" font-size="11.2" textLength="12.46" lengthAdjust="spacingAndGlyphs">20</text>
<line x1="554.50" y1="567.80" x2="554.50" y2="570.30" stroke="#000" stroke-width="1.2"/>
<text x="547.43" y="584.10" font-size="11.2" textLength="12.46" lengthAdjust="spacingAndGlyphs">25</text>
<line x1="314.98" y1="454.87" x2="314.98" y2="487.32" stroke="#000" stroke-width="1" shape-rendering="crispEdges"/>
<line x1="312.68" y1="454.87" x2="317.28" y2="454.87" stroke="#000" stroke-width="1" shape-rendering="crispEdges"/>
<line x1="312.68" y1="487.32" x2="317.28" y2="487.32" stroke="#000" stroke-width="1" shape-rendering="crispEdges"/>
<line x1="324.96" y1="429.71" x2="324.96" y2="496.25" stroke="#000" stroke-width="1" shape-rendering="crispEdges"/>
<line x1="322.66" y1="429.71" x2="327.26" y2="429.71" stroke="#000" stroke-width="1" shape-rendering="crispEdges"/>
<line x1="322.66" y1="496.25" x2="327.26" y2="496.25" stroke="#000" stroke-width="1" shape-rendering="crispEdges"/>
<line x1="329.95" y1="453.24" x2="329.95" y2="497.87" stroke="#000" stroke-width="1" shape-rendering="crispEdges"/>
<line x1="327.65" y1="453.24" x2="332.25" y2="453.24" stroke="#000" stroke-width="1" shape-rendering="crispEdges"/>
<line x1="327.65" y1="497.87" x2="332.25" y2="497.87" stroke="#000" stroke-width="1" shape-rendering="crispEdges"/>
<line x1="334.94" y1="434.18" x2="334.94" y2="513.29" stroke="#000" stroke-width="1" shape-rendering="crispEdges"/>
<line x1="332.64" y1="434.18" x2="337.24" y2="434.18" stroke="#000" stroke-width="1" shape-rendering="crispEdges"/>
<line x1="332.64" y1="513.29" x2="337.24" y2="513.29" stroke="#000" stroke-width="1" shape-rendering="crispEdges"/>
<line x1="364.88" y1="467.85" x2="364.88" y2="491.38" stroke="#000" stroke-width="1" shape-rendering="crispEdges"/>
<line x1="362.58" y1="467.85" x2="367.18" y2="467.85" stroke="#000" stroke-width="1" shape-rendering="crispEdges"/>
<line x1="362.58" y1="491.38" x2="367.18" y2="491.38" stroke="#000" stroke-width="1" shape-rendering="crispEdges"/>
<line x1="384.84" y1="462.57" x2="384.84" y2="511.26" stroke="#000" stroke-width="1" shape-rendering="crispEdges"/>
<line x1="382.54" y1="462.57" x2="387.14" y2="462.57" stroke="#000" stroke-width="1" shape-rendering="crispEdges"/>
<line x1="382.54" y1="511.26" x2="387.14" y2="511.26" stroke="#000" stroke-width="1" shape-rendering="crispEdges"/>
<line x1="554.50" y1="484.48" x2="554.50" y2="517.34" stroke="#000" stroke-width="1" shape-rendering="crispEdges"/>
<line x1="552.20" y1="484.48" x2="556.80" y2="484.48" stroke="#000" stroke-width="1" shape-rendering="crispEdges"/>
<line x1="552.20" y1="517.34" x2="556.80" y2="517.34" stroke="#000" stroke-width="1" shape-rendering="crispEdges"/>
<line x1="314.98" y1="476.77" x2="314.98" y2="499.09" stroke="#000" stroke-width="1" shape-rendering="crispEdges"/>
<line x1="312.68" y1="476.77" x2="317.28" y2="476.77" stroke="#000" stroke-width="1" shape-rendering="crispEdges"/>
<line x1="312.68" y1="499.09" x2="317.28" y2="499.09" stroke="#000" stroke-width="1" shape-rendering="crispEdges"/>
<line x1="319.97" y1="473.53" x2="319.97" y2="493.81" stroke="#000" stroke-width="1" shape-rendering="crispEdges"/>
<line x1="317.67" y1="473.53" x2="322.27" y2="473.53" stroke="#000" stroke-width="1" shape-rendering="crispEdges"/>
<line x1="317.67" y1="493.81" x2="322.27" y2="493.81" stroke="#000" stroke-width="1" shape-rendering="crispEdges"/>
<line x1="324.96" y1="477.59" x2="324.96" y2="499.09" stroke="#000" stroke-width="1" shape-rendering="crispEdges"/>
<line x1="322.66" y1="477.59" x2="327.26" y2="477.59" stroke="#000" stroke-width="1" shape-rendering="crispEdges"/>
<line x1="322.66" y1="499.09" x2="327.26" y2="499.09" stroke="#000" stroke-width="1" shape-rendering="crispEdges"/>
<line x1="354.90" y1="477.99" x2="354.90" y2="501.93" stroke="#000" stroke-width="1" shape-rendering="crispEdges"/>
<line x1="352.60" y1="477.99" x2="357.20" y2="477.99" stroke="#000" stroke-width="1" shape-rendering="crispEdges"/>
<line x1="352.60" y1="501.93" x2="357.20" y2="501.93" stroke="#000" stroke-width="1" shape-rendering="crispEdges"/>
<line x1="374.86" y1="477.59" x2="374.86" y2="508.01" stroke="#000" stroke-width="1" shape-rendering="crispEdges"/>
<line x1="372.56" y1="477.59" x2="377.16" y2="477.59" stroke="#000" stroke-width="1" shape-rendering="crispEdges"/>
<line x1="372.56" y1="508.01" x2="377.16" y2="508.01" stroke="#000" stroke-width="1" shape-rendering="crispEdges"/>
<line x1="544.52" y1="490.16" x2="544.52" y2="512.48" stroke="#000" stroke-width="1" shape-rendering="crispEdges"/>
<line x1="542.22" y1="490.16" x2="546.82" y2="490.16" stroke="#000" stroke-width="1" shape-rendering="crispEdges"/>
<line x1="542.22" y1="512.48" x2="546.82" y2="512.48" stroke="#000" stroke-width="1" shape-rendering="crispEdges"/>
<polyline points="305.00,564.00 314.98,472.31 324.96,464.20 329.95,476.77 334.94,474.75 364.88,480.83 384.84,488.13 554.50,501.93" fill="none" stroke="#f00" stroke-width="1.2" stroke-linejoin="round"/>
<polygon points="314.98,467.78 319.08,474.58 310.88,474.58" fill="#f00" stroke="#000" stroke-width="1"/>
<polygon points="324.96,459.66 329.06,466.46 320.86,466.46" fill="#f00" stroke="#000" stroke-width="1"/>
<polygon points="329.95,472.24 334.05,479.04 325.85,479.04" fill="#f00" stroke="#000" stroke-width="1"/>
<polygon points="334.94,470.21 339.04,477.01 330.84,477.01" fill="#f00" stroke="#000" stroke-width="1"/>
<polygon points="364.88,476.30 368.98,483.10 360.78,483.10" fill="#f00" stroke="#000" stroke-width="1"/>
<polygon points="384.84,483.60 388.94,490.40 380.74,490.40" fill="#f00" stroke="#000" stroke-width="1"/>
<polygon points="554.50,497.39 558.60,504.19 550.40,504.19" fill="#f00" stroke="#000" stroke-width="1"/>
<polyline points="305.00,564.00 314.98,487.32 319.97,482.86 324.96,487.73 354.90,489.76 374.86,493.00 544.52,501.52" fill="none" stroke="#000" stroke-width="1.3" stroke-dasharray="12 5" stroke-linejoin="round"/>
<ellipse cx="305.00" cy="564.00" rx="4.2" ry="3.8" fill="#000"/>
<ellipse cx="314.98" cy="487.32" rx="4.2" ry="3.8" fill="#000"/>
<ellipse cx="319.97" cy="482.86" rx="4.2" ry="3.8" fill="#000"/>
<ellipse cx="324.96" cy="487.73" rx="4.2" ry="3.8" fill="#000"/>
<ellipse cx="354.90" cy="489.76" rx="4.2" ry="3.8" fill="#000"/>
<ellipse cx="374.86" cy="493.00" rx="4.2" ry="3.8" fill="#000"/>
<ellipse cx="544.52" cy="501.52" rx="4.2" ry="3.8" fill="#000"/>
</svg></body></html>
